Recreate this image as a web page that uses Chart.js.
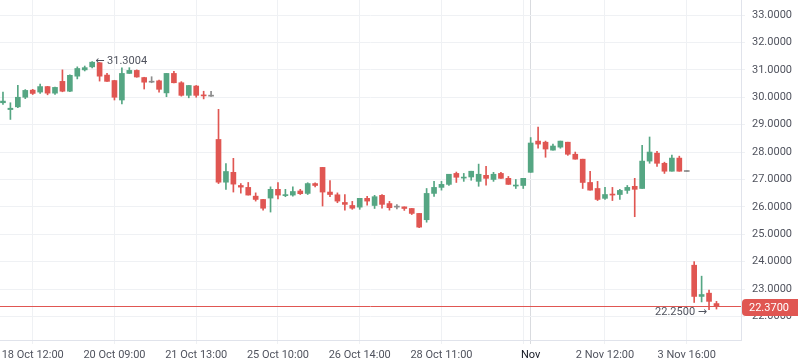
<!DOCTYPE html>
<html>
<head>
<meta charset="utf-8">
<script src="https://cdn.jsdelivr.net/npm/chart.js@4.4.0/dist/chart.umd.min.js"></script>
<style>
html, body { margin: 0; padding: 0; background: #fff; }
</style>
</head>
<body>
<canvas id="candleChart" width="798" height="363"></canvas>
<script>
// candle values, one entry per bar (left to right)
const opens = [
    29.80, 29.55, 29.65, 30.00, 30.26, 30.19, 30.39, 30.15, 30.58, 30.22,
    30.77, 31.00, 31.11, 31.26, 30.81, 30.61, 29.90, 30.87, 30.98, 30.72,
    30.55, 30.60, 30.16, 30.87, 30.53, 30.07, 30.41, 30.08, 30.04, 28.46,
    26.90, 27.26, 26.78, 26.71, 26.39, 26.27, 26.32, 26.64, 26.41, 26.43,
    26.58, 26.49, 26.85, 27.44, 26.54, 26.44, 26.16, 26.05, 25.99, 26.31,
    26.05, 26.42, 26.12, 25.99, 26.00, 25.94, 25.76, 25.53, 26.49, 26.71,
    26.82, 27.22, 27.05, 27.09, 26.93, 27.15, 27.00, 27.22, 27.04, 26.76,
    26.78, 27.26, 28.40, 28.36, 28.07, 28.18, 28.36, 27.92, 27.74, 26.89,
    26.67, 26.31, 26.45, 26.45, 26.60, 26.75, 26.67, 27.67, 27.96, 27.59,
    27.30, 27.78, 27.29, 23.87, 22.73, 22.85, 22.47
];
const highs = [
    30.19, 29.80, 30.44, 30.28, 30.29, 30.48, 30.40, 30.37, 31.00, 30.82,
    31.11, 31.14, 31.3004, 31.27, 30.87, 30.62, 31.07, 31.08, 31.00, 30.73,
    30.75, 30.63, 30.87, 30.95, 30.57, 30.43, 30.43, 30.22, 30.22, 29.56,
    27.58, 27.77, 26.85, 26.89, 26.51, 26.27, 26.73, 26.89, 26.64, 26.73,
    26.64, 26.88, 26.88, 27.44, 26.96, 26.51, 26.45, 26.20, 26.31, 26.38,
    26.42, 26.45, 26.20, 26.08, 26.00, 25.94, 25.76, 26.67, 26.93, 26.93,
    27.19, 27.27, 27.22, 27.30, 27.56, 27.48, 27.26, 27.26, 27.11, 27.00,
    27.04, 28.53, 28.91, 28.40, 28.29, 28.40, 28.36, 28.00, 27.74, 27.30,
    26.93, 26.71, 26.71, 26.64, 26.78, 27.04, 28.25, 28.55, 28.03, 27.63,
    27.89, 27.85, 27.29, 24.00, 23.47, 22.96, 22.55
];
const lows = [
    29.74, 29.19, 29.62, 29.95, 30.10, 30.14, 30.09, 30.10, 30.20, 30.20,
    30.67, 30.96, 31.07, 30.59, 30.58, 29.90, 29.76, 30.87, 30.73, 30.30,
    30.53, 30.19, 30.02, 30.52, 30.04, 29.98, 30.00, 29.94, 30.03, 26.85,
    26.64, 26.54, 26.50, 26.43, 26.21, 25.88, 25.81, 26.29, 26.37, 26.39,
    26.45, 26.45, 26.73, 26.03, 26.37, 26.15, 25.88, 25.91, 25.91, 26.06,
    25.94, 25.95, 25.88, 25.92, 25.87, 25.72, 25.24, 25.44, 26.38, 26.61,
    26.78, 26.89, 26.93, 26.97, 26.75, 26.79, 26.93, 27.04, 26.82, 26.67,
    26.67, 27.26, 28.14, 27.81, 28.07, 28.14, 27.88, 27.74, 26.67, 26.61,
    26.23, 26.27, 26.23, 26.27, 26.49, 25.64, 26.67, 27.59, 27.48, 27.22,
    27.30, 27.30, 27.29, 22.51, 22.53, 22.25, 22.27
];
const closes = [
    29.86, 29.60, 30.00, 30.25, 30.14, 30.39, 30.15, 30.36, 30.22, 30.80,
    31.05, 31.08, 31.28, 30.77, 30.58, 30.00, 30.87, 30.98, 30.74, 30.55,
    30.55, 30.29, 30.87, 30.53, 30.07, 30.43, 30.07, 30.05, 30.04, 26.90,
    27.29, 26.83, 26.72, 26.43, 26.27, 25.95, 26.64, 26.43, 26.44, 26.56,
    26.48, 26.85, 26.78, 26.54, 26.45, 26.21, 26.09, 25.95, 26.31, 26.21,
    26.37, 26.09, 25.97, 25.99, 25.94, 25.76, 25.26, 26.49, 26.71, 26.82,
    27.19, 27.08, 27.08, 27.30, 27.19, 27.04, 27.19, 27.04, 26.82, 26.79,
    27.04, 28.33, 28.29, 28.11, 28.22, 28.40, 27.92, 27.74, 26.89, 26.61,
    26.27, 26.45, 26.43, 26.60, 26.71, 26.64, 27.67, 28.00, 27.59, 27.30,
    27.78, 27.30, 27.29, 22.73, 22.80, 22.55, 22.37
];

// x axis: bar index of each time label
const tickIndex = [4, 15, 26, 37, 48, 59, 70, 71, 81, 92];
const tickLabels = ['18 Oct 12:00', '20 Oct 09:00', '21 Oct 13:00', '25 Oct 10:00', '26 Oct 14:00',
    '28 Oct 11:00', '', 'Nov', '2 Nov 12:00', '3 Nov 16:00'];
const monthIndex = 71;

// y axis price ticks
const priceTicks = [22, 23, 24, 25, 26, 27, 28, 29, 30, 31, 32, 33];
const lastPrice = 22.37;

const upColor = '#55a683';
const downColor = '#e05652';
const flatColor = '#8c8c8c';
const textColor = '#50535e';

function candleColor(i) {
    if (closes[i] > opens[i]) return upColor;
    if (closes[i] < opens[i]) return downColor;
    return flatColor;
}

function createCandleChart() {
    const ctx = document.getElementById('candleChart');

    const colors = opens.map((o, i) => candleColor(i));
    const bodies = opens.map((o, i) => ({ x: i, y: [Math.min(o, closes[i]), Math.max(o, closes[i])] }));
    const wicks = lows.map((l, i) => ({ x: i, y: [l, highs[i]] }));

    // max / min labels, last price line and badge
    const markerPlugin = {
        id: 'markers',
        afterDatasetsDraw(chart) {
            const c = chart.ctx;
            const xs = chart.scales.x;
            const ys = chart.scales.y;
            const area = chart.chartArea;
            c.save();
            c.font = '11px Roboto, "DejaVu Sans"';
            c.fillStyle = textColor;
            c.textBaseline = 'middle';

            const hi = Math.max(...highs);
            const hiIdx = highs.indexOf(hi);
            c.textAlign = 'left';
            c.fillText('\u2190 ' + hi.toFixed(4), xs.getPixelForValue(hiIdx) + 3, ys.getPixelForValue(hi));

            const lo = Math.min(...lows);
            const loIdx = lows.indexOf(lo);
            c.textAlign = 'right';
            c.fillText(lo.toFixed(4) + ' \u2192', xs.getPixelForValue(loIdx) - 2, ys.getPixelForValue(lo) + 3);

            const py = Math.round(ys.getPixelForValue(lastPrice)) + 0.5;
            c.strokeStyle = downColor;
            c.lineWidth = 1;
            c.beginPath();
            c.moveTo(area.left, py);
            c.lineTo(area.right, py);
            c.stroke();
            c.restore();
        },
        afterDraw(chart) {
            const c = chart.ctx;
            const ys = chart.scales.y;
            const py = Math.round(ys.getPixelForValue(lastPrice)) + 1;
            const left = chart.chartArea.right + 1;
            const right = chart.width;
            c.save();
            c.fillStyle = downColor;
            c.beginPath();
            c.roundRect(left, py - 8, right - left, 17, [4, 0, 0, 4]);
            c.fill();
            c.fillStyle = '#ffffff';
            c.font = '11px Roboto';
            c.textBaseline = 'middle';
            c.textAlign = 'left';
            c.fillText(lastPrice.toFixed(4), left + 7, py + 1);
            c.restore();
        }
    };

    new Chart(ctx, {
        type: 'bar',
        data: {
            datasets: [{
                label: 'body',
                data: bodies,
                backgroundColor: colors,
                barThickness: 5,
                minBarLength: 1,
                borderWidth: 0
            }, {
                label: 'wick',
                data: wicks,
                backgroundColor: colors,
                barThickness: 1,
                minBarLength: 1,
                borderWidth: 0
            }]
        },
        options: {
            responsive: false,
            animation: false,
            grouped: false,
            layout: { padding: 0 },
            scales: {
                x: {
                    type: 'linear',
                    offset: false,
                    min: -0.4,
                    max: 99.3,
                    afterBuildTicks: (axis) => {
                        axis.ticks = tickIndex.map(v => ({ value: v }));
                    },
                    afterFit: (axis) => {
                        axis.height = 23;
                        axis.paddingLeft = 0;
                        axis.paddingRight = 0;
                    },
                    grid: {
                        offset: false,
                        color: (c) => c.tick && c.tick.value === monthIndex ? '#d9dbdf' : '#eff1f4',
                        tickLength: 4
                    },
                    border: { color: '#e0e3eb' },
                    ticks: {
                        autoSkip: false,
                        maxRotation: 0,
                        padding: 5,
                        font: { family: 'Roboto', size: 11 },
                        color: (c) => c.tick && c.tick.value === monthIndex ? '#131722' : textColor,
                        callback: (v) => tickLabels[tickIndex.indexOf(v)]
                    }
                },
                y: {
                    position: 'right',
                    min: 21.14,
                    max: 33.55,
                    afterBuildTicks: (axis) => {
                        axis.ticks = priceTicks.map(v => ({ value: v }));
                    },
                    afterFit: (axis) => {
                        axis.width = 57;
                        axis.paddingTop = 0;
                        axis.paddingBottom = 0;
                    },
                    grid: { color: '#eff1f4', tickLength: 4 },
                    border: { color: '#e0e3eb' },
                    ticks: {
                        padding: 7,
                        font: { family: 'Roboto', size: 11 },
                        color: textColor,
                        callback: (v) => Number(v).toFixed(4)
                    }
                }
            },
            plugins: {
                legend: { display: false },
                tooltip: { enabled: false }
            }
        },
        plugins: [markerPlugin]
    });
}

document.addEventListener('DOMContentLoaded', () => {
    createCandleChart();
});
</script>
</body>
</html>
